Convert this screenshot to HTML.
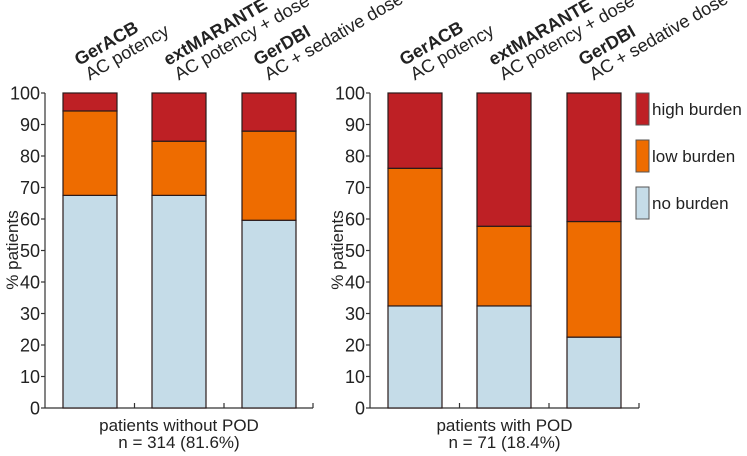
<!DOCTYPE html>
<html><head><meta charset="utf-8"><style>
body{margin:0;background:#fff}
svg{display:block;font-family:"Liberation Sans",Arial,sans-serif}
</style></head><body>
<svg id="c" width="747" height="456" viewBox="0 0 747 456"></svg>
<script>
const categories=[["GerACB","AC potency"],["extMARANTE","AC potency + dose"],["GerDBI","AC + sedative dose"]];
const yTicks=[0,10,20,30,40,50,60,70,80,90,100];
const noBurdenWithout=[67.5,67.5,59.6];
const lowBurdenWithout=[26.8,17.2,28.3];
const highBurdenWithout=[5.7,15.3,12.1];
const noBurdenWith=[32.4,32.4,22.5];
const lowBurdenWith=[43.7,25.3,36.7];
const highBurdenWith=[23.9,42.3,40.8];
const groupLabels=[["patients without POD","n = 314 (81.6%)"],["patients with POD","n = 71 (18.4%)"]];
const legendLabels=["high burden","low burden","no burden"];
const colors=["#be2025","#ee6c00","#c5dce8"];

const svg=document.getElementById('c');
const NS='http://www.w3.org/2000/svg';
function mk(tag,attrs,parent){const e=document.createElementNS(NS,tag);for(const k in attrs)e.setAttribute(k,attrs[k]);(parent||svg).appendChild(e);return e;}
const yTop=93,yBot=408;
function y(v){return yBot-(yBot-yTop)*v/100;}

const panels=[
 {ax:45,end:313,bars:[63,152,242],no:noBurdenWithout,low:lowBurdenWithout,high:highBurdenWithout,label:groupLabels[0]},
 {ax:370,end:639,bars:[388,477,567],no:noBurdenWith,low:lowBurdenWith,high:highBurdenWith,label:groupLabels[1]}
];
const bw=54;
panels.forEach((p,pi)=>{
 const g=mk('g',{});
 
 
 const ax=mk('line',{x1:p.ax,y1:yTop,x2:p.ax,y2:yBot,stroke:'#333','stroke-width':1.2},g);
 
 
 const xa=mk('line',{x1:p.ax,y1:yBot,x2:p.end,y2:yBot,stroke:'#333','stroke-width':1.2},g);
 
 
 [(p.bars[0]+bw+p.bars[1])/2,(p.bars[1]+bw+p.bars[2])/2,p.end].forEach(tx=>{
  const t=mk('line',{x1:tx,y1:yBot,x2:tx,y2:yBot-5,stroke:'#333','stroke-width':1.2},g);
  
  
 });
 yTicks.forEach(v=>{
  const t=mk('line',{x1:p.ax-4,y1:y(v),x2:p.ax,y2:y(v),stroke:'#333','stroke-width':1.2},g);
  
  
  const l=mk('text',{x:p.ax-5,y:y(v)+6.5,'text-anchor':'end','font-size':18,fill:'#222'},g);
  l.textContent=v;
  
  
 });
 const yt=mk('text',{transform:`translate(${p.ax-27},250) rotate(-90)`,'text-anchor':'middle','font-size':17,fill:'#222'},g);
 yt.textContent='% patients';
 
 
 p.bars.forEach((bx,i)=>{
  const segs=[[0,p.no[i],colors[2],'no-burden'],[p.no[i],p.no[i]+p.low[i],colors[1],'low-burden'],[p.no[i]+p.low[i],p.no[i]+p.low[i]+p.high[i],colors[0],'high-burden']];
  segs.forEach(s=>{
   const r=mk('rect',{x:bx,y:y(s[1]),width:bw,height:y(s[0])-y(s[1]),fill:s[2],stroke:'#2a1a1a','stroke-width':1.2},g);
   
   
  });
  const cg=mk('g',{transform:`translate(${bx+16},${66}) rotate(-30)`},g);
  
  
  const t1=mk('text',{x:0,y:0,'font-size':18,'font-weight':'bold',fill:'#222'},cg);
  t1.textContent=categories[i][0];
  const t2=mk('text',{x:2,y:18,'font-size':18,fill:'#222'},cg);
  t2.textContent=categories[i][1];
 });
 const cx=(p.ax+p.end)/2;
 const l1=mk('text',{x:cx,y:431,'text-anchor':'middle','font-size':17,fill:'#222'},g);
 l1.textContent=p.label[0];
 
 
 const l2=mk('text',{x:cx,y:448,'text-anchor':'middle','font-size':17,fill:'#222'},g);
 l2.textContent=p.label[1];
 
 
});
const lg=mk('g',{});


legendLabels.forEach((lab,i)=>{
 const yy=93+i*47;
 const r=mk('rect',{x:636,y:yy,width:13,height:32,fill:colors[i],stroke:'#555','stroke-width':1},lg);
 
 
 const t=mk('text',{x:652,y:yy+22,'font-size':17,fill:'#222'},lg);
 t.textContent=lab;
 
 
});
</script>
</body></html>
